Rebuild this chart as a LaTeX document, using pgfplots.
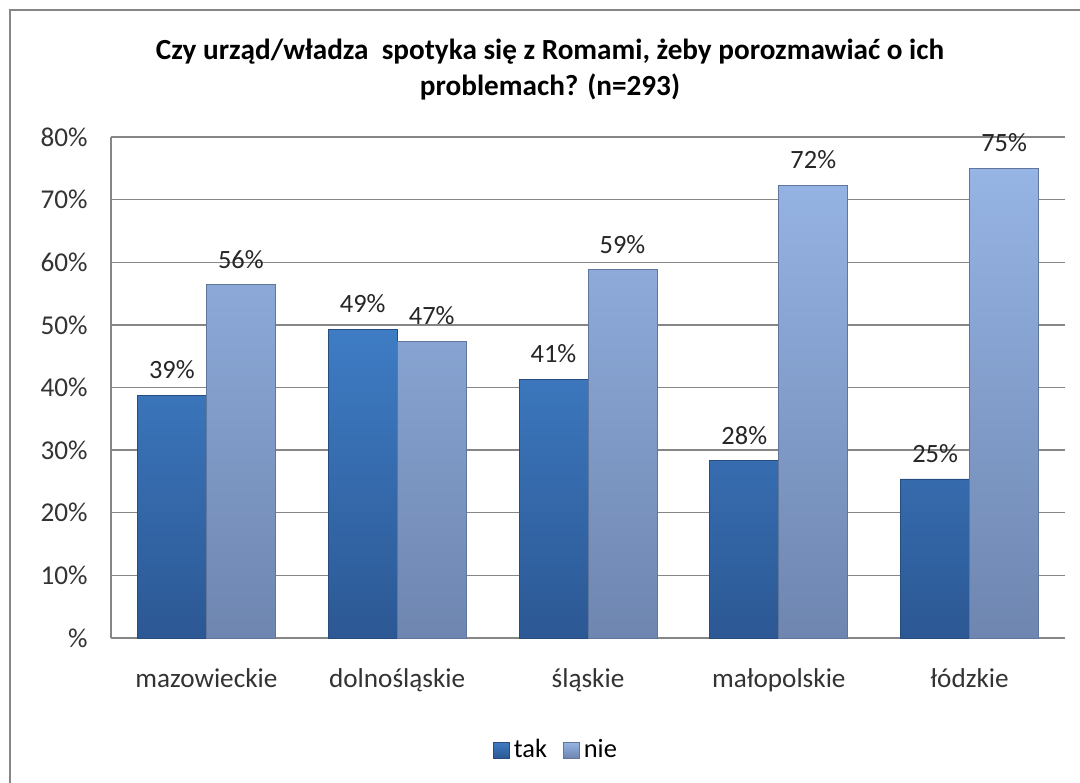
\documentclass[border=0pt]{standalone}
\usepackage{fontspec}
\setmainfont{Carlito}
\usepackage{pgfplots}
\pgfplotsset{compat=1.18}

\definecolor{takTop}{RGB}{62,124,196}
\definecolor{takBot}{RGB}{44,88,148}
\definecolor{takEdge}{RGB}{38,76,128}
\definecolor{nieTop}{RGB}{150,180,228}
\definecolor{nieBot}{RGB}{110,134,176}
\definecolor{nieEdge}{RGB}{96,118,156}
\definecolor{frame}{RGB}{134,134,134}

\begin{document}
\begin{tikzpicture}
\useasboundingbox (0,0) rectangle (540pt,-391pt);
\fill[white] (0,0) rectangle (540pt,-391pt);
\draw[frame, line width=1pt] (5pt,-400pt) -- (5pt,-5pt) -- (550pt,-5pt);
\node[align=center, font=\fontsize{14.6}{18}\selectfont\bfseries] at (275pt,-35pt)
  {Czy urząd/władza\ \ spotyka się z Romami, żeby porozmawiać o ich\\problemach? (n=293)};
\begin{axis}[
  at={(55.5pt,-319pt)}, anchor=south west,
  width=477pt, height=250.5pt, scale only axis,
  ybar=0pt, bar width=34.5pt,
  xmin=-0.5, xmax=4.5, ymin=0, ymax=80,
  enlargelimits=false,
  xtick={0,...,4},
  xticklabels={mazowieckie,dolnośląskie,śląskie,małopolskie,łódzkie},
  ytick={0,10,...,80},
  yticklabels={\%,10\%,20\%,30\%,40\%,50\%,60\%,70\%,80\%},
  axis x line*=bottom, axis y line*=left,
  axis line style={draw=frame, line width=0.8pt, -},
  ymajorgrids, grid style={draw=frame, line width=0.7pt},
  major tick length=0pt,
  /pgf/number format/assume math mode=true,
  tick label style={font=\fontsize{13.6}{15}\selectfont, text=black!80},
  xticklabel style={anchor=north, text height=9pt, text depth=2.5pt, yshift=-12pt},
  yticklabel style={xshift=-8.2pt},
  nodes near coords={\pgfmathprintnumber[fixed,precision=0]{\pgfplotspointmeta}\%},
  every node near coord/.append style={font=\fontsize{13.2}{15}\selectfont, text=black!85,
    anchor=south, text depth=0pt, yshift=4.7pt},
  legend style={at={(0.4675,-0.2236)}, anchor=center, draw=none, fill=none,
    legend columns=-1, font=\fontsize{13.2}{14}\selectfont,
    /tikz/every even column/.append style={column sep=6pt}},
  legend image code/.code={\path[#1] (0pt,-4pt) rectangle (8pt,4pt);},
]
\addplot[top color=takTop, bottom color=takBot, draw=takEdge, line width=0.4pt]
  coordinates {(0,38.8) (1,49.3) (2,41.3) (3,28.3) (4,25.4)};
\addlegendentry{tak}
\addplot[top color=nieTop, bottom color=nieBot, draw=nieEdge, line width=0.4pt]
  coordinates {(0,56.4) (1,47.4) (2,58.8) (3,72.3) (4,75.0)};
\addlegendentry{nie}
\end{axis}
\end{tikzpicture}
\end{document}
